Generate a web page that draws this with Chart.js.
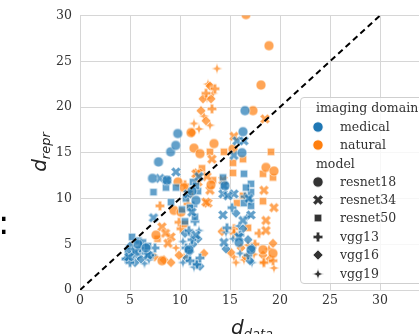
<!DOCTYPE html>
<html>
<head>
<meta charset="utf-8">
<script src="https://cdn.jsdelivr.net/npm/chart.js@4/dist/chart.umd.min.js"></script>
<style>
  body { margin: 0; background: #fff; overflow: hidden; width: 419px; height: 334px; position: relative; }
  #wrap { position: absolute; left: 0; top: 0; }
  .math { position: absolute; font-family: "DejaVu Sans", sans-serif; font-style: italic; font-size: 20px; line-height: 20px; color: #222; white-space: nowrap; }
  .math span { font-size: 13px; position: relative; top: 4px; }
  #legend { position: absolute; left: 300px; top: 97px; width: 140px; height: 185px; border: 1px solid #cfcfcf; border-radius: 4px; background: rgba(255,255,255,0.8); }
  .lg { position: absolute; font-family: "DejaVu Serif", serif; font-size: 12.5px; line-height: 16px; color: #333; white-space: nowrap; }
  .mk { position: absolute; }
  #colon { position: absolute; left: -2px; top: 205px; font-family: "DejaVu Sans", sans-serif; font-size: 34px; line-height: 34px; color: #000; }
</style>
</head>
<body>
<div id="wrap"><canvas id="chart" width="436" height="334"></canvas></div>
<div id="colon">:</div>
<div class="math" id="xtitle" style="left:231px; top:317px;">d<span>data</span></div>
<div class="math" id="ytitle" style="left:40px; top:152px; transform: translate(-50%,-50%) rotate(-90deg);">d<span>repr</span></div>
<div id="legend"></div>
<script>
// values, [d_data, d_repr]
const medical_resnet18 = [[7.25,12.2],[7.85,14.0],[9.06,15.1],[9.57,15.8],[9.77,17.1],[16.3,17.3],[16.5,19.6],[8.7,12.0],[16.2,15.0],[5.8,5.0],[6.6,4.6],[10.9,4.4],[11.6,9.8],[15.9,5.2],[17.1,4.4],[11.2,10.8],[14.5,11.4]];
const medical_resnet34 = [[9.6,12.9],[8.0,12.2],[8.7,12.0],[7.35,7.9],[15.7,16.3],[16.4,16.3],[15.4,14.7],[14.4,11.4],[14.3,10.5],[15.4,10.5],[14.8,10.3],[14.3,8.2],[17.1,8.2],[16.3,7.6],[14.4,5.2],[11.2,8.5],[10.8,10.5],[11.6,6.0],[5.5,4.2],[6.8,3.8],[16.9,10.0],[11.9,12.4],[15.9,5.8],[4.9,3.6]];
const medical_resnet50 = [[5.2,5.8],[5.85,5.4],[6.3,5.2],[4.8,4.3],[7.35,10.7],[8.6,11.2],[9.6,11.2],[9.1,9.6],[10.6,10.0],[11.0,9.0],[11.5,8.0],[11.8,10.8],[11.3,11.8],[10.5,7.5],[14.3,12.3],[16.4,12.7],[17.1,11.6],[17.1,10.7],[16.4,9.5],[17.1,9.2],[16.6,11.2],[6.8,4.8],[11.6,11.4],[10.2,8.8]];
const medical_vgg13 = [[4.6,3.4],[5.3,3.8],[6.0,4.6],[6.6,4.0],[10.9,6.5],[11.2,5.5],[11.5,7.5],[10.6,4.6],[11.0,3.2],[11.7,2.8],[12.0,3.5],[14.7,6.8],[16.0,6.0],[16.8,3.8],[15.2,9.0],[16.5,10.2],[7.5,4.6],[5.0,3.0],[11.3,9.2],[17.0,9.8]];
const medical_vgg16 = [[4.7,3.5],[5.5,3.0],[6.1,3.4],[7.0,3.8],[10.7,3.5],[11.0,4.2],[11.6,3.0],[11.3,5.0],[12.0,2.6],[15.6,8.4],[16.3,6.7],[14.6,4.5],[17.0,3.2],[16.8,5.5],[5.0,4.8],[5.9,4.2],[10.5,6.2],[11.8,5.6],[17.2,4.6]];
const medical_vgg19 = [[4.6,3.3],[5.1,4.0],[6.45,2.9],[5.8,3.6],[7.3,3.8],[10.3,3.0],[10.8,4.4],[11.4,2.5],[10.3,5.3],[15.3,5.6],[16.0,4.0],[17.2,3.0],[14.6,6.3],[16.7,8.0],[11.9,6.5],[5.4,4.6],[6.9,3.3],[11.1,6.0],[15.9,7.0]];
const natural_resnet18 = [[11.4,15.5],[12.0,14.9],[13.4,16.0],[15.3,15.4],[17.3,19.6],[18.1,22.4],[18.9,26.7],[16.6,30.1],[18.6,13.4],[19.4,13.0],[11.1,17.2],[9.8,11.8],[10.4,11.2],[9.4,8.7],[10.1,8.5],[7.6,6.0],[18.3,4.4],[19.3,4.0],[8.2,3.2],[13.1,11.5]];
const natural_resnet34 = [[18.5,18.7],[15.4,16.8],[13.2,14.3],[11.8,12.8],[11.6,12.7],[12.7,12.4],[13.0,10.9],[14.3,12.0],[12.8,9.5],[12.6,9.6],[8.2,6.9],[9.1,5.8],[8.8,5.1],[8.55,6.2],[18.4,10.9],[19.4,9.0],[18.6,6.5],[18.6,7.6],[11.8,11.8]];
const natural_resnet50 = [[13.0,15.1],[14.4,15.1],[19.1,15.1],[15.3,13.9],[16.3,14.3],[15.3,12.8],[13.3,12.0],[16.3,10.3],[15.7,9.5],[18.3,9.7],[7.75,5.6],[16.8,6.8],[19.3,12.3],[18.3,12.7],[11.0,10.5],[10.5,7.2],[12.2,13.3]];
const natural_vgg13 = [[13.2,19.8],[8.0,9.2],[9.9,7.4],[10.1,6.7],[15.4,6.7],[15.4,6.2],[17.9,6.2],[10.5,11.5],[12.6,21.5],[19.3,3.2],[18.4,3.0],[13.5,22.0],[10.8,9.4],[17.5,5.0]];
const natural_vgg16 = [[12.3,20.9],[12.6,18.5],[11.2,17.2],[13.1,20.9],[13.0,22.3],[7.45,3.6],[8.4,3.3],[9.1,3.0],[9.9,3.8],[12.4,4.0],[14.2,6.4],[15.1,4.1],[16.1,4.6],[18.3,3.8],[19.3,5.1],[12.1,19.6],[16.6,3.6],[19.0,3.4]];
const natural_vgg19 = [[13.7,24.2],[12.8,22.5],[11.4,18.2],[11.9,17.6],[12.4,19.0],[13.3,21.5],[13.0,18.0],[9.6,4.6],[10.4,3.6],[15.4,3.6],[16.4,3.3],[15.6,3.0],[16.8,4.9],[18.3,3.0],[19.4,2.4],[12.7,21.0],[17.4,3.9],[18.9,4.5]];

const domains = ['medical', 'natural'];
const models = ['resnet18', 'resnet34', 'resnet50', 'vgg13', 'vgg16', 'vgg19'];
const identityLine = [[0, 0], [30, 30]];

const domainColors = { medical: '#1f77b4', natural: '#ff7f0e' };
const modelShapes = { resnet18: 'circle', resnet34: 'x', resnet50: 'square', vgg13: 'plus', vgg16: 'diamond', vgg19: 'star' };
const series = {
  medical: [medical_resnet18, medical_resnet34, medical_resnet50, medical_vgg13, medical_vgg16, medical_vgg19],
  natural: [natural_resnet18, natural_resnet34, natural_resnet50, natural_vgg13, natural_vgg16, natural_vgg19]
};

// seaborn-ish filled markers with white edge
function makeMarker(shape, color, alpha, k) {
  const c = document.createElement('canvas');
  const s = 14;
  c.width = s; c.height = s;
  const g = c.getContext('2d');
  g.translate(s / 2, s / 2);
  g.scale(k, k);
  g.globalAlpha = alpha;
  g.fillStyle = color;
  g.strokeStyle = '#fff';
  g.lineWidth = 0.8 / k;
  g.beginPath();
  if (shape === 'circle') {
    g.arc(0, 0, 4.3, 0, Math.PI * 2);
  } else if (shape === 'square') {
    g.rect(-3.2, -3.2, 6.4, 6.4);
  } else if (shape === 'diamond') {
    g.moveTo(0, -4.3); g.lineTo(4.3, 0); g.lineTo(0, 4.3); g.lineTo(-4.3, 0); g.closePath();
  } else if (shape === 'plus' || shape === 'x') {
    const r = shape === 'x' ? 4.6 : 4.1, w = shape === 'x' ? 1.6 : 1.5;
    if (shape === 'x') g.rotate(Math.PI / 4);
    const pts = [[-w,-r],[w,-r],[w,-w],[r,-w],[r,w],[w,w],[w,r],[-w,r],[-w,w],[-r,w],[-r,-w],[-w,-w]];
    pts.forEach((p, i) => i ? g.lineTo(p[0], p[1]) : g.moveTo(p[0], p[1]));
    g.closePath();
  } else if (shape === 'star') {
    for (let i = 0; i < 8; i++) {
      const a = i * Math.PI / 4 - Math.PI / 2;
      const r = i % 2 ? 1.7 : 4.8;
      const x = Math.cos(a) * r, y = Math.sin(a) * r;
      i ? g.lineTo(x, y) : g.moveTo(x, y);
    }
    g.closePath();
  }
  g.fill();
  g.stroke();
  return c;
}

const datasets = [{
  label: 'identity',
  data: identityLine.map(p => ({ x: p[0], y: p[1] })),
  showLine: true,
  borderColor: '#000',
  borderWidth: 2,
  borderDash: [6, 4],
  pointRadius: 0,
  clip: 0
}];
domains.forEach(d => {
  models.forEach((m, i) => {
    datasets.push({
      label: d + ' ' + m,
      data: series[d][i].map(p => ({ x: p[0], y: p[1] })),
      pointStyle: makeMarker(modelShapes[m], domainColors[d], 0.7, 1.15),
      pointRadius: 5,
      clip: 0
    });
  });
});

const tickFont = { family: 'DejaVu Serif', size: 12.5 };

const chart = new Chart(document.getElementById('chart'), {
  type: 'scatter',
  data: { datasets: datasets },
  options: {
    responsive: false,
    animation: false,
    layout: { padding: { top: 14, left: 0, right: 0, bottom: 0 } },
    plugins: { legend: { display: false }, tooltip: { enabled: false } },
    scales: {
      x: {
        min: 0, max: 35,
        ticks: { stepSize: 5, font: tickFont, color: '#333', padding: 3, callback: v => v > 30 ? '' : v },
        grid: { color: '#d6d6d6', drawTicks: false },
        border: { display: false },
        afterFit: s => { s.height = 44; }
      },
      y: {
        min: 0, max: 30,
        ticks: { stepSize: 5, font: tickFont, color: '#333', padding: 8 },
        grid: { color: '#d6d6d6', drawTicks: false },
        border: { display: false },
        afterFit: s => { s.width = 80; }
      }
    }
  }
});

// legend, drawn as html
const legend = document.getElementById('legend');
function addText(txt, left, cy) {
  const el = document.createElement('div');
  el.className = 'lg';
  el.textContent = txt;
  el.style.left = (left - 300) + 'px';
  el.style.top = (cy - 8 - 97) + 'px';
  legend.appendChild(el);
}
function addMarker(shape, color, cy) {
  const c = makeMarker(shape, color, 1, 1.2);
  c.className = 'mk';
  c.style.left = (317 - 7 - 300) + 'px';
  c.style.top = (cy - 7 - 97) + 'px';
  legend.appendChild(c);
}
addText('imaging domain', 315, 107);
const domainRows = [126, 144];
domains.forEach((d, i) => { addMarker('circle', domainColors[d], domainRows[i]); addText(d, 339, domainRows[i]); });
addText('model', 315, 163);
const modelRows = [181, 199, 217, 236, 254, 273];
models.forEach((m, i) => { addMarker(modelShapes[m], '#333', modelRows[i]); addText(m, 339, modelRows[i]); });
</script>
</body>
</html>
